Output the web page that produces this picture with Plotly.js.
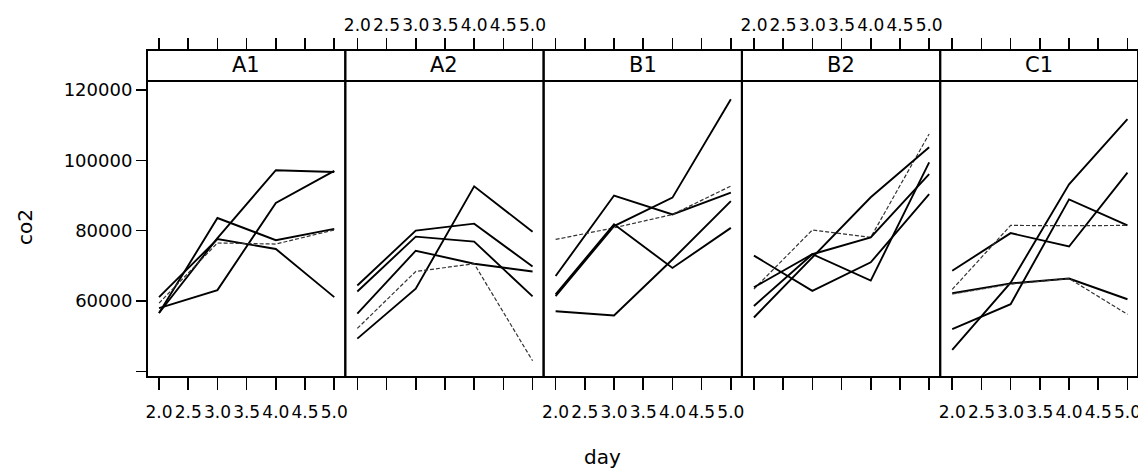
<!DOCTYPE html>
<html>
<head>
<meta charset="utf-8">
<script src="https://cdn.plot.ly/plotly-3.0.1.min.js"></script>
<style>html,body{margin:0;padding:0;background:#fff;}#plot{width:1138px;height:468px;}</style>
</head>
<body>
<div id="plot"></div>
<script>
// ---- data ----
const panels = ['A1', 'A2', 'B1', 'B2', 'C1'];
const days = [2, 3, 4, 5];
const co2_A1 = [
  [56600, 83600, 77300, 80500],
  [61100, 77600, 74800, 61100],
  [58000, 63100, 87900, 97000],
  [56600, 77900, 97200, 96700],
  [59400, 76500, 76200, 80200]
];
const co2_A2 = [
  [49300, 63500, 92600, 79700],
  [64400, 80000, 82000, 69800],
  [62700, 78300, 76900, 61300],
  [56400, 74300, 70600, 68400],
  [52200, 68400, 70600, 43000]
];
const co2_B1 = [
  [67100, 90000, 84600, 90800],
  [61400, 81300, 89400, 117400],
  [77500, 80800, 84600, 92700],
  [61900, 81800, 69400, 80800],
  [57100, 55900, 71800, 88400]
];
const co2_B2 = [
  [72900, 62900, 71000, 90400],
  [63400, 80200, 78100, 107500],
  [63900, 73300, 78100, 96100],
  [55300, 72400, 89500, 103700],
  [58600, 73300, 65800, 99400]
];
const co2_C1 = [
  [46100, 65200, 93200, 111700],
  [52000, 59100, 88900, 81500],
  [68600, 79300, 75500, 96500],
  [63300, 81500, 81400, 81500],
  [62200, 65000, 66400, 60500],
  [62000, 64800, 66400, 56200]
];
// which series in each panel look faint (thin, broken) in the scan
const faint_A1 = [4], faint_A2 = [4], faint_B1 = [2], faint_B2 = [1], faint_C1 = [3, 5];
const xTickVals = [2.0, 2.5, 3.0, 3.5, 4.0, 4.5, 5.0];
const xTickText = ['2.0', '2.5', '3.0', '3.5', '4.0', '4.5', '5.0'];
const yTickVals = [40000, 60000, 80000, 100000, 120000];
const yTickText = ['', '60000', '80000', '100000', '120000'];
const xLabel = 'day';
const yLabel = 'co2';

// ---- layout geometry (pixels) ----
const W = 1138, H = 468;
const panelLeft0 = 147, panelW = 198.3;
const stripTop = 50, stripBot = 81, dataBot = 377;
const px2x = p => Math.min(1, p / W);
const px2y = p => 1 - p / H;
const xRange = [1.794, 5.189];
const yRange = [38390, 122560];

const allData = [co2_A1, co2_A2, co2_B1, co2_B2, co2_C1];
const allFaint = [faint_A1, faint_A2, faint_B1, faint_B2, faint_C1];

const tickFont = {family: 'DejaVu Sans, sans-serif', size: 17, color: '#000'};
const traces = [];
const layout = {
  width: W, height: H,
  margin: {l: 0, r: 0, t: 0, b: 0, pad: 0},
  paper_bgcolor: '#fff', plot_bgcolor: '#fff',
  showlegend: false,
  shapes: [], annotations: [],
  yaxis: {
    domain: [px2y(dataBot), px2y(stripBot)], range: yRange, anchor: 'x',
    tickvals: yTickVals, ticktext: yTickText, ticks: 'outside', ticklen: 10,
    tickwidth: 1.6, tickcolor: '#000', showgrid: false, zeroline: false, showline: false,
    tickfont: {family: 'DejaVu Sans, sans-serif', size: 18, color: '#000'}
  }
};

panels.forEach((name, i) => {
  const left = panelLeft0 + i * panelW;
  const right = left + panelW;
  const n = i + 1;
  const xid = n === 1 ? 'x' : 'x' + n;
  const xkey = n === 1 ? 'xaxis' : 'xaxis' + n;
  const topN = n + 5;
  const topId = 'x' + topN, topKey = 'xaxis' + topN;
  let rng = xRange.slice();
  if (right > W) {
    // clip the last panel at the page edge, keep the same scale
    const scale = (xRange[1] - xRange[0]) / panelW;
    rng = [xRange[0], xRange[0] + (W - left) * scale];
  }
  const bottomLabels = (i % 2 === 0);
  layout[xkey] = {
    domain: [px2x(left), px2x(Math.min(right, W))], range: rng, anchor: 'y',
    tickvals: xTickVals, ticktext: xTickText, ticks: 'outside', ticklen: 12,
    tickwidth: 1.6, tickcolor: '#000', tickangle: 0, showticklabels: bottomLabels,
    ticklabeloverflow: 'allow', ticklabelstandoff: 8,
    showgrid: false, zeroline: false, showline: false, tickfont: tickFont
  };
  layout[topKey] = {
    overlaying: xid, side: 'top', anchor: 'free', position: px2y(stripTop),
    range: rng, tickvals: xTickVals, ticktext: xTickText, ticks: 'outside', ticklen: 12,
    tickwidth: 1.6, tickcolor: '#000', tickangle: 0, showticklabels: !bottomLabels,
    ticklabeloverflow: 'allow',
    showgrid: false, zeroline: false, showline: false, tickfont: tickFont
  };
  traces.push({x: [], y: [], xaxis: topId, yaxis: 'y', type: 'scatter', mode: 'lines', hoverinfo: 'skip'});

  allData[i].forEach((series, k) => {
    const faint = allFaint[i].indexOf(k) >= 0;
    traces.push({
      x: days, y: series, xaxis: xid, yaxis: 'y', type: 'scatter', mode: 'lines',
      line: faint ? {color: '#333', width: 1.2, dash: '4px,2px'} : {color: '#000', width: 1.9}
    });
  });

  // panel frame and strip
  layout.shapes.push({type: 'rect', xref: 'paper', yref: 'paper',
    x0: px2x(left), x1: px2x(right), y0: px2y(dataBot), y1: px2y(stripTop),
    line: {color: '#000', width: 2}, fillcolor: 'rgba(0,0,0,0)'});
  layout.shapes.push({type: 'line', xref: 'paper', yref: 'paper',
    x0: px2x(left), x1: px2x(right), y0: px2y(stripBot), y1: px2y(stripBot),
    line: {color: '#000', width: 2}});
  layout.annotations.push({text: name, xref: 'paper', yref: 'paper',
    x: px2x((left + Math.min(right, W + 1)) / 2), y: px2y((stripTop + stripBot) / 2),
    xanchor: 'center', yanchor: 'middle', showarrow: false,
    font: {family: 'DejaVu Sans, sans-serif', size: 21, color: '#000'}});
});

layout.annotations.push({text: yLabel, xref: 'paper', yref: 'paper',
  x: px2x(25), y: px2y(227), xanchor: 'center', yanchor: 'middle', textangle: -90,
  showarrow: false, font: {family: 'DejaVu Sans, sans-serif', size: 20, color: '#000'}});
layout.annotations.push({text: xLabel, xref: 'paper', yref: 'paper',
  x: px2x(602), y: px2y(457), xanchor: 'center', yanchor: 'middle',
  showarrow: false, font: {family: 'DejaVu Sans, sans-serif', size: 20, color: '#000'}});

Plotly.newPlot('plot', traces, layout, {staticPlot: true, displayModeBar: false});
</script>
</body>
</html>
